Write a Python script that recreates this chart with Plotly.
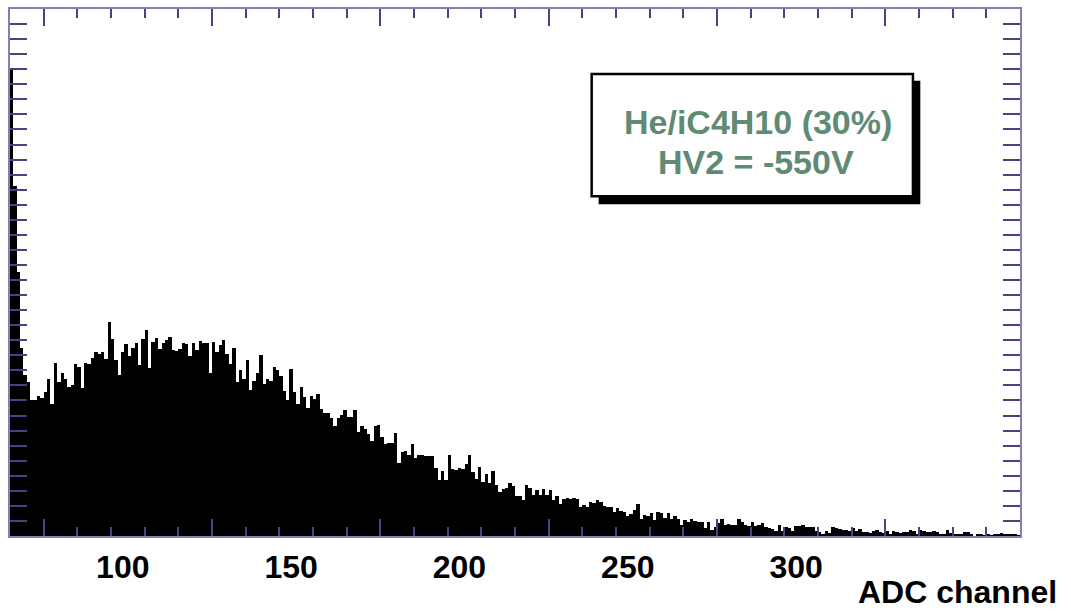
import plotly.graph_objects as go

# Histogram: ADC channel spectrum, unit-width bins centred on integers 67..366
first_bin_center = 67
bin_width = 1
counts = [
    621, 465, 351, 250, 214, 204, 180, 180, 186, 183,
    191, 209, 176, 230, 204, 216, 209, 198, 201, 228,
    224, 197, 230, 228, 236, 244, 242, 244, 235, 284,
    262, 234, 214, 244, 255, 239, 250, 256, 227, 262,
    273, 223, 258, 263, 248, 256, 260, 264, 247, 246,
    249, 256, 255, 239, 256, 247, 259, 257, 256, 217,
    258, 244, 254, 261, 242, 229, 250, 205, 220, 208,
    234, 194, 206, 217, 241, 202, 208, 206, 224, 220,
    213, 193, 180, 222, 191, 176, 198, 185, 170, 186,
    182, 189, 169, 164, 163, 157, 146, 157, 161, 167,
    158, 158, 167, 138, 146, 142, 136, 126, 146, 147,
    131, 122, 124, 123, 137, 97, 111, 113, 108, 122,
    103, 108, 107, 106, 106, 106, 90, 74, 86, 75,
    108, 89, 88, 90, 89, 96, 108, 85, 76, 92,
    72, 83, 71, 86, 68, 59, 63, 64, 71, 66,
    53, 53, 48, 68, 64, 55, 61, 55, 62, 55,
    61, 48, 53, 42, 49, 51, 49, 51, 49, 38,
    41, 39, 45, 44, 48, 45, 40, 39, 39, 32,
    37, 33, 32, 27, 29, 34, 42, 23, 28, 27,
    31, 21, 32, 30, 24, 30, 22, 26, 23, 15,
    21, 18, 22, 20, 18, 18, 11, 19, 8, 12,
    17, 22, 15, 16, 14, 15, 22, 19, 14, 13,
    18, 13, 15, 17, 12, 11, 9, 7, 14, 7,
    12, 11, 7, 13, 13, 14, 12, 12, 12, 7,
    5, 3, 7, 4, 12, 11, 9, 8, 8, 7,
    10, 6, 9, 5, 5, 4, 6, 8, 5, 4,
    7, 2, 6, 5, 4, 5, 5, 8, 6, 3,
    8, 7, 5, 5, 6, 5, 3, 3, 8, 4,
    3, 3, 3, 5, 5, 2, 0, 2, 3, 1,
    2, 1, 3, 3, 4, 3, 3, 3, 3, 1,
]

x_range = [66.5, 366.5]
y_range = [0, 700]
tick_labels = ["100", "150", "200", "250", "300"]
tick_label_vals = [100, 150, 200, 250, 300]
x_title = "ADC channel"
box_lines = ["He/iC4H10 (30%)", "HV2 = -550V"]

axis_line = "#8a7ab6"
tick_col = "#4e3e86"
text_green = "#618a74"
font_family = "Liberation Sans, Arial, sans-serif"

fig = go.Figure()
fig.add_trace(go.Bar(
    x0=first_bin_center, dx=bin_width, y=counts,
    marker=dict(color="black", line=dict(width=0)),
    showlegend=False, hoverinfo="skip",
))
# invisible trace anchoring the label axis
fig.add_trace(go.Scatter(x=[tick_label_vals[0]], y=[0], xaxis="x2", mode="markers",
                         marker=dict(opacity=0), showlegend=False, hoverinfo="skip"))

fig.update_layout(
    width=1071, height=616,
    margin=dict(l=10, r=51, t=7, b=80),
    paper_bgcolor="white", plot_bgcolor="white",
    bargap=0,
    xaxis=dict(
        range=x_range, showgrid=False, zeroline=False,
        showline=True, linecolor=axis_line, linewidth=2, mirror="allticks",
        ticks="inside", tickmode="linear", tick0=76.5, dtick=50,
        ticklen=17, tickwidth=1.5, tickcolor=tick_col,
        showticklabels=False,
        minor=dict(ticks="inside", tick0=76.5, dtick=10, ticklen=9,
                   tickwidth=1.5, tickcolor=tick_col, showgrid=False),
    ),
    xaxis2=dict(
        overlaying="x", side="bottom", range=x_range,
        showgrid=False, zeroline=False, showline=False,
        ticks="", tickmode="array", tickvals=tick_label_vals, ticktext=tick_labels,
        tickfont=dict(family=font_family, size=32, color="black", weight="bold"),
        ticklabelstandoff=9,
    ),
    yaxis=dict(
        range=y_range, showgrid=False, zeroline=False,
        showline=True, linecolor=axis_line, linewidth=2, mirror="allticks",
        ticks="inside", tickmode="linear", tick0=0, dtick=100,
        ticklen=17, tickwidth=1.5, tickcolor=tick_col,
        showticklabels=False,
        minor=dict(ticks="inside", tick0=0, dtick=20, ticklen=9,
                   tickwidth=1.5, tickcolor=tick_col, showgrid=False),
    ),
)

# text box with drop shadow
fig.add_shape(type="rect", xref="paper", yref="paper",
              x0=0.5828, x1=0.9013, y0=0.6295, y1=0.8639,
              fillcolor="black", line=dict(width=0), layer="above")
fig.add_shape(type="rect", xref="paper", yref="paper",
              x0=0.5759, x1=0.8940, y0=0.6446, y1=0.8766,
              fillcolor="white", line=dict(color="black", width=2.5), layer="above")

fig.add_annotation(xref="paper", yref="paper", x=(758 - 10) / 1010, y=(536 - 120) / 529,
                   text=box_lines[0], showarrow=False, xanchor="center", yanchor="middle",
                   font=dict(family=font_family, size=34, color=text_green, weight="bold"))
fig.add_annotation(xref="paper", yref="paper", x=(756 - 10) / 1010, y=(536 - 161) / 529,
                   text=box_lines[1], showarrow=False, xanchor="center", yanchor="middle",
                   font=dict(family=font_family, size=34, color=text_green, weight="bold"))

fig.add_annotation(xref="paper", yref="paper", x=(1059 - 10) / 1010, y=(536 - 592) / 529,
                   text=x_title, showarrow=False, xanchor="right", yanchor="middle",
                   font=dict(family=font_family, size=32, color="black", weight="bold"))

fig.write_html("out.html")
